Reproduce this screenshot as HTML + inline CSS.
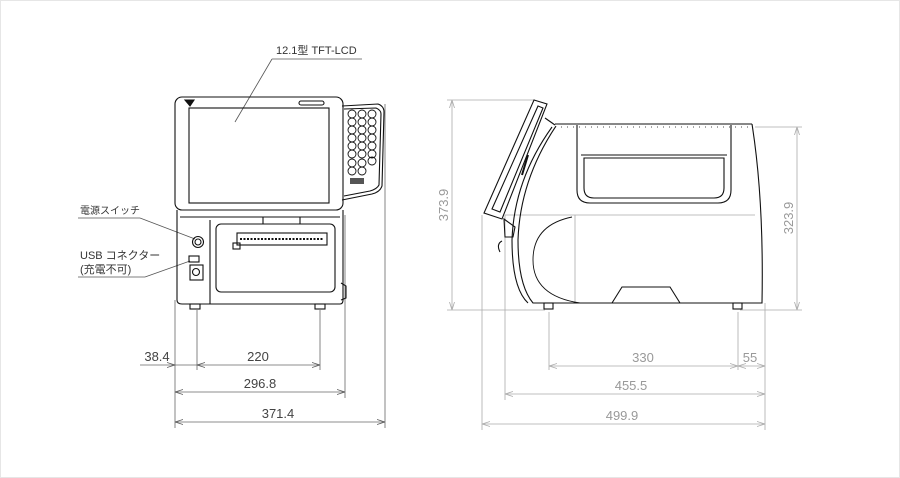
<!DOCTYPE html>
<html><head><meta charset="utf-8"><style>
html,body{margin:0;padding:0;background:#fff;}
svg{display:block;}
text{font-family:"Liberation Sans","Noto Sans CJK JP",sans-serif;}
</style></head><body>
<svg width="900" height="478" viewBox="0 0 900 478" xmlns="http://www.w3.org/2000/svg">
<rect x="0" y="0" width="900" height="478" fill="#fff"/>
<rect x="0.5" y="0.5" width="899" height="477" fill="none" stroke="#e6e6e6"/>
<defs>
<marker id="ad" markerWidth="8" markerHeight="6" refX="8" refY="3" orient="auto" markerUnits="userSpaceOnUse"><path d="M0,0.5 L8,3 L0,5.5" fill="none" stroke="#555" stroke-width="0.8"/></marker>
<marker id="as" markerWidth="8" markerHeight="6" refX="0" refY="3" orient="auto" markerUnits="userSpaceOnUse"><path d="M8,0.5 L0,3 L8,5.5" fill="none" stroke="#555" stroke-width="0.8"/></marker>
<marker id="bd" markerWidth="8" markerHeight="6" refX="8" refY="3" orient="auto" markerUnits="userSpaceOnUse"><path d="M0,0.5 L8,3 L0,5.5" fill="none" stroke="#aaa" stroke-width="0.8"/></marker>
<marker id="bs" markerWidth="8" markerHeight="6" refX="0" refY="3" orient="auto" markerUnits="userSpaceOnUse"><path d="M8,0.5 L0,3 L8,5.5" fill="none" stroke="#aaa" stroke-width="0.8"/></marker>
</defs>

<!-- FRONT VIEW dims -->
<g stroke="#666" stroke-width="0.8" fill="none">
<line x1="175" y1="300" x2="175" y2="428"/>
<line x1="197" y1="310" x2="197" y2="370"/>
<line x1="320" y1="310" x2="320" y2="370"/>
<line x1="345" y1="215" x2="345" y2="398"/>
<line x1="385" y1="104" x2="385" y2="428"/>
<line x1="140" y1="365" x2="175" y2="365" marker-end="url(#ad)"/>
<line x1="175" y1="365" x2="197" y2="365"/>
<line x1="197" y1="365" x2="320" y2="365" marker-start="url(#as)" marker-end="url(#ad)"/>
<line x1="175" y1="392" x2="345" y2="392" marker-start="url(#as)" marker-end="url(#ad)"/>
<line x1="175" y1="422" x2="385" y2="422" marker-start="url(#as)" marker-end="url(#ad)"/>
</g>
<g fill="#444" font-size="13" text-anchor="middle">
<text x="157" y="361">38.4</text>
<text x="258" y="361">220</text>
<text x="260" y="388">296.8</text>
<text x="278" y="418">371.4</text>
</g>

<!-- leaders -->
<g stroke="#555" stroke-width="0.8" fill="none">
<line x1="272" y1="59" x2="362" y2="59"/>
<line x1="272" y1="59" x2="235" y2="122"/>
<line x1="78" y1="218" x2="140" y2="218"/>
<line x1="140" y1="218" x2="195" y2="239"/>
<line x1="78" y1="277" x2="145" y2="277"/>
<line x1="145" y1="277" x2="190" y2="261"/>
</g>
<g fill="#333" font-size="11">
<text x="276" y="54">12.1型 TFT-LCD</text>
<text x="80" y="214" font-size="10">電源スイッチ</text>
<text x="80" y="259">USB コネクター</text>
<text x="80" y="273">(充電不可)</text>
</g>

<!-- FRONT DEVICE -->
<g stroke="#111" stroke-width="1.1" fill="none">
<path d="M342,106 L378,104 Q384,106 384,112 L382,186 Q380,192 372,194 L342,200"/>
<path d="M344,109 L376,108 Q381,110 381,114 L379,185 Q377,189 370,191 L344,196"/>
<rect x="175" y="97" width="168" height="113" rx="7"/>
<rect x="189" y="108" width="140" height="95"/>
<rect x="299" y="101" width="25" height="4" rx="2"/>
<path d="M185,100 L190,106 L194,100 Z" fill="#111"/>
<path d="M177,210 L177,300 Q177,304 182,304 L340,304 Q343,304 343,300 L343,210"/>
<line x1="180" y1="217" x2="340" y2="217"/>
<line x1="210" y1="220" x2="210" y2="304"/>
<line x1="263" y1="217" x2="263" y2="224"/>
<line x1="300" y1="217" x2="300" y2="224"/>
<rect x="216" y="224" width="119" height="68" rx="5"/>
<rect x="237" y="233" width="90" height="12"/>
<rect x="233" y="243" width="7" height="6"/>
<circle cx="198" cy="242" r="5.5"/>
<circle cx="198" cy="242" r="3"/>
<rect x="189" y="256" width="10" height="6"/>
<rect x="190" y="265" width="13" height="15"/>
<circle cx="196" cy="272" r="3.5"/>
<path d="M341,283 L346,286 L346,298 L341,300"/>
<rect x="190" y="304" width="10" height="5"/>
<rect x="315" y="304" width="10" height="5"/>
</g>
<g stroke="#111" stroke-width="0.5" fill="none">
<line x1="240" y1="239" x2="324" y2="239" stroke-dasharray="2,1.5" stroke-width="2"/>
</g>
<g stroke="#111" stroke-width="0.9" fill="none">
<circle cx="352" cy="114" r="4"/><circle cx="362" cy="114" r="4"/><circle cx="372" cy="114" r="4"/>
<circle cx="352" cy="122" r="4"/><circle cx="362" cy="122" r="4"/><circle cx="372" cy="122" r="4"/>
<circle cx="352" cy="130" r="4"/><circle cx="362" cy="130" r="4"/><circle cx="372" cy="130" r="4"/>
<circle cx="352" cy="138" r="4"/><circle cx="362" cy="138" r="4"/><circle cx="372" cy="138" r="4"/>
<circle cx="352" cy="146" r="4"/><circle cx="362" cy="146" r="4"/><circle cx="372" cy="146" r="4"/>
<circle cx="352" cy="154" r="4"/><circle cx="362" cy="154" r="4"/><circle cx="372" cy="154" r="4"/>
<circle cx="352" cy="163" r="4"/><circle cx="362" cy="163" r="4"/><circle cx="372" cy="161" r="4"/>
<circle cx="352" cy="171" r="4"/><circle cx="362" cy="171" r="4"/>
</g>
<rect x="350" y="178" width="14" height="6" fill="#555"/>

<!-- SIDE VIEW dims -->
<g stroke="#aaa" stroke-width="0.8" fill="none">
<line x1="447" y1="100" x2="535" y2="100"/>
<line x1="447" y1="310" x2="545" y2="310"/>
<line x1="452" y1="100" x2="452" y2="310" marker-start="url(#bs)" marker-end="url(#bd)"/>
<line x1="755" y1="127" x2="802" y2="127"/>
<line x1="740" y1="310" x2="802" y2="310"/>
<line x1="797" y1="127" x2="797" y2="310" marker-start="url(#bs)" marker-end="url(#bd)"/>
<line x1="482" y1="215" x2="482" y2="430"/>
<line x1="505" y1="215" x2="505" y2="400"/>
<line x1="549" y1="312" x2="549" y2="370"/>
<line x1="738" y1="312" x2="738" y2="370"/>
<line x1="765" y1="303" x2="765" y2="430"/>
<line x1="505" y1="215" x2="755" y2="215"/>
<line x1="575" y1="215" x2="575" y2="303"/>
<line x1="549" y1="366" x2="738" y2="366" marker-start="url(#bs)" marker-end="url(#bd)"/>
<line x1="738" y1="366" x2="765" y2="366" marker-start="url(#bs)" marker-end="url(#bd)"/>
<line x1="505" y1="394" x2="765" y2="394" marker-start="url(#bs)" marker-end="url(#bd)"/>
<line x1="482" y1="424" x2="765" y2="424" marker-start="url(#bs)" marker-end="url(#bd)"/>
</g>
<g fill="#999" font-size="13" text-anchor="middle">
<text x="643" y="362">330</text>
<text x="750" y="362">55</text>
<text x="631" y="390">455.5</text>
<text x="622" y="420">499.9</text>
<text transform="translate(448,205) rotate(-90)">373.9</text>
<text transform="translate(793,218) rotate(-90)">323.9</text>
</g>

<!-- SIDE DEVICE -->
<g stroke="#111" stroke-width="1.1" fill="none">
<path d="M534,100 L547,104 L502,219 L484,213 Z"/>
<path d="M538,106 L543,108 L500,212 L492,209 Z"/>
<path d="M545,118 L555,125"/>
<path d="M555,124 L752,124"/>
<path d="M752,124 Q764,200 762,303 L752,303"/>
<path d="M556,126 Q520,180 518,240 Q518,285 533,303 L752,303"/>
<path d="M552,127 Q514,180 512,240 Q512,288 528,303"/>
<path d="M577,125 L577,190 Q577,203 590,203 L718,203 Q731,203 731,190 L731,125"/>
<path d="M584,158 L724,158 L724,188 Q724,198 714,198 L594,198 Q584,198 584,188 Z"/>
<line x1="581" y1="155" x2="727" y2="155"/>
<path d="M572,217 Q533,225 533,260 Q533,296 580,303" stroke-width="0.9"/>
<path d="M612,303 L622,287 L670,287 L680,303"/>
<path d="M504,219 L515,227 L513,237 L505,237 Z"/>
<path d="M500,252 Q496,244 502,241"/>
<rect x="544" y="303" width="9" height="6"/>
<rect x="733" y="303" width="9" height="6"/>
<line x1="528" y1="155" x2="522" y2="175" stroke-width="2"/>
</g>
<g stroke="#111" stroke-width="0.8">
<line x1="555" y1="127" x2="752" y2="127" stroke-dasharray="1,5"/>
</g>
</svg>
</body></html>
